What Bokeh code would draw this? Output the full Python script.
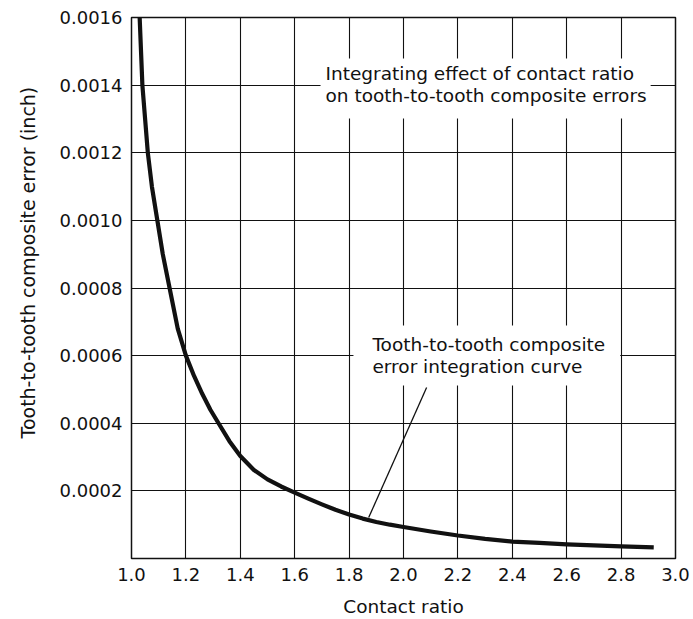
from bokeh.plotting import figure
from bokeh.models import Range1d, FixedTicker, Label, Title
from bokeh.embed import file_html
from bokeh.resources import INLINE

# ---- data ----
contact_ratio = [1.03, 1.035, 1.04, 1.05, 1.06, 1.075, 1.095, 1.115, 1.14, 1.17, 1.2, 1.23, 1.26, 1.29,
                 1.32, 1.36, 1.4, 1.45, 1.5, 1.55, 1.6, 1.65, 1.7, 1.75, 1.8, 1.85, 1.9, 1.95, 2.0,
                 2.1, 2.2, 2.3, 2.4, 2.5, 2.6, 2.7, 2.8, 2.92]
composite_error = [0.0016, 0.0015, 0.0014, 0.0013, 0.0012, 0.0011, 0.0010, 0.0009, 0.0008, 0.00068, 0.0006,
                   0.00054, 0.000487, 0.00044, 0.0004, 0.000347, 0.000303, 0.000262, 0.000234, 0.000213,
                   0.000195, 0.000177, 0.00016, 0.000144, 0.00013, 0.000118, 0.000108, 0.0001, 0.000093,
                   0.00008, 0.000068, 0.000058, 0.00005, 0.000046, 0.000042, 0.000039, 0.000036, 0.000033]
x_ticks = [1.0, 1.2, 1.4, 1.6, 1.8, 2.0, 2.2, 2.4, 2.6, 2.8, 3.0]
y_ticks = [0.0002, 0.0004, 0.0006, 0.0008, 0.0010, 0.0012, 0.0014, 0.0016]
y_tick_labels = ["0.0002", "0.0004", "0.0006", "0.0008", "0.0010", "0.0012", "0.0014", "0.0016"]
leader_x = [1.872, 2.085]
leader_y = [0.000121, 0.000506]
title_x = "Contact ratio"
title_y = "Tooth-to-tooth composite error (inch)"
note_top = "Integrating effect of contact ratio\non tooth-to-tooth composite errors"
note_curve = "Tooth-to-tooth composite\nerror integration curve"

FONT = "DejaVu Sans"
INK = "#111111"

p = figure(width=690, height=619, output_backend="svg", toolbar_location=None,
           x_range=Range1d(1.0, 3.0), y_range=Range1d(0.0, 0.0016),
           min_border_left=131, min_border_right=15, min_border_top=17, min_border_bottom=61)

p.background_fill_color = "white"
p.border_fill_color = "white"
p.outline_line_color = INK
p.outline_line_width = 1.5

# axes
p.xaxis.ticker = FixedTicker(ticks=x_ticks)
p.yaxis.ticker = FixedTicker(ticks=y_ticks)
p.xaxis.major_label_overrides = {t: f"{t:.1f}" for t in x_ticks}
p.yaxis.major_label_overrides = {t: s for t, s in zip(y_ticks, y_tick_labels)}
for ax in (p.xaxis, p.yaxis):
    ax.axis_line_color = None
    ax.major_tick_line_color = None
    ax.minor_tick_line_color = None
    ax.major_tick_out = 0
    ax.major_tick_in = 0
    ax.major_label_text_font = FONT
    ax.major_label_text_font_size = "18px"
    ax.major_label_text_color = INK
    ax.axis_label_text_font = FONT
    ax.axis_label_text_font_size = "18.5px"
    ax.axis_label_text_font_style = "normal"
    ax.axis_label_text_color = INK
p.xaxis.axis_label = title_x
p.xaxis.major_label_standoff = 9
p.xaxis.axis_label_standoff = 12
p.yaxis.major_label_standoff = 9

# y-axis title as a side title (sits a little above the frame centre, as in the original)
ytitle = Title(text=title_y, align="left", offset=120, standoff=31, vertical_align="top",
               text_font=FONT, text_font_size="19px", text_font_style="normal", text_color=INK)
p.add_layout(ytitle, "left")

# grid
p.xgrid.ticker = FixedTicker(ticks=x_ticks)
p.ygrid.ticker = FixedTicker(ticks=y_ticks)
for g in (p.xgrid, p.ygrid):
    g.grid_line_color = INK
    g.grid_line_width = 1.1
    g.grid_line_alpha = 1.0

# curve
p.line(contact_ratio, composite_error, line_color=INK, line_width=4.2, line_join="round")

# leader line
p.line(leader_x, leader_y, line_color=INK, line_width=1.3)

# annotations
lab1 = Label(x=1.695, y=0.001479, text=note_top, text_font=FONT, text_font_size="18.5px",
             text_color=INK, text_align="left", text_baseline="top", text_line_height=1.05,
             background_fill_color="white", background_fill_alpha=1.0,
             padding=dict(left=5, right=4, top=5, bottom=12))
lab2 = Label(x=1.816, y=0.000689, text=note_curve, text_font=FONT, text_font_size="18.5px",
             text_color=INK, text_align="left", text_baseline="top", text_line_height=1.05,
             background_fill_color="white", background_fill_alpha=1.0,
             padding=dict(left=19, right=15, top=8, bottom=9))
p.add_layout(lab1)
p.add_layout(lab2)

open("out.html", "w").write(file_html(p, INLINE))
